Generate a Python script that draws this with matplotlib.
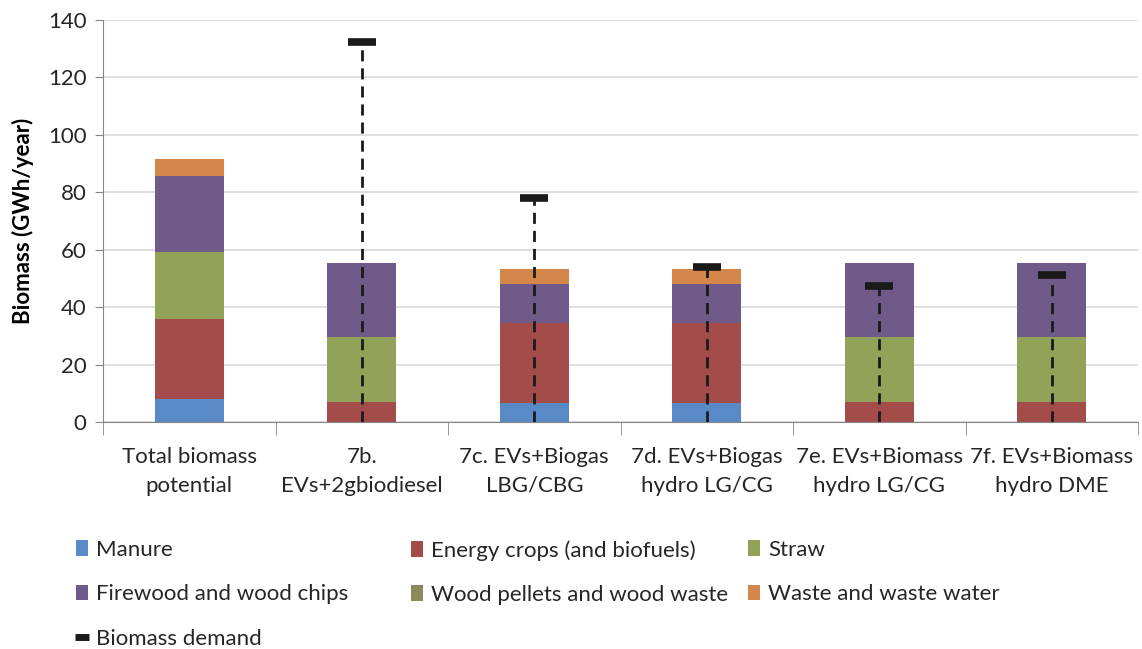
import numpy as np
import matplotlib.pyplot as plt
from matplotlib.patches import Patch
from matplotlib.lines import Line2D

plt.rcParams['font.family'] = ['Lato', 'DejaVu Sans']

categories = ["Total biomass\npotential", "7b.\nEVs+2gbiodiesel", "7c. EVs+Biogas\nLBG/CBG",
              "7d. EVs+Biogas\nhydro LG/CG", "7e. EVs+Biomass\nhydro LG/CG", "7f. EVs+Biomass\nhydro DME"]
manure = [7.9, 0, 6.7, 6.7, 0, 0]
energy = [28.1, 7.1, 27.8, 27.8, 7.1, 7.1]
straw = [23.2, 22.6, 0, 0, 22.6, 22.6]
firewood = [26.5, 25.8, 13.6, 13.6, 25.8, 25.8]
pellets = [0, 0, 0, 0, 0, 0]
waste = [5.8, 0, 5.2, 5.2, 0, 0]
demand = [np.nan, 132.4, 78.0, 54.0, 47.5, 51.2]

series = [("Manure", manure, "#5a89c7"),
          ("Energy crops (and biofuels)", energy, "#a44c4a"),
          ("Straw", straw, "#92a259"),
          ("Firewood and wood chips", firewood, "#705a8a"),
          ("Wood pellets and wood waste", pellets, "#8c8a5b"),
          ("Waste and waste water", waste, "#d5864a")]

fig = plt.figure(figsize=(11.42, 6.49), dpi=100)
ax = fig.add_axes([103/1142, 1 - 422/649, (1138 - 103)/1142, (422 - 20)/649])

x = np.arange(len(categories))
bottom = np.zeros(len(categories))
handles = {}
for name, vals, col in series:
    vals = np.array(vals, dtype=float)
    ax.bar(x, vals, 0.4, bottom=bottom, color=col, zorder=2)
    bottom += vals
    handles[name] = Patch(facecolor=col)

dem = np.array(demand)
ax.vlines(x, 0, dem, colors="#1a1a1a", linestyles=(0, (4, 2.5)), linewidth=2, zorder=3)
ax.plot(x, dem, linestyle="none", marker="_", markersize=20, mew=5.5, color="#1a1a1a", zorder=4)
handles["Biomass demand"] = Line2D([], [], linestyle="none", marker="_", markersize=10, mew=5, color="#1a1a1a")

ax.set_xlim(-0.5, len(categories) - 0.5)
ax.set_ylim(0, 140)
ax.set_yticks(range(0, 141, 20))
ax.grid(axis="y", color="#d9d9d9", linewidth=1.2, zorder=0)
ax.set_axisbelow(True)
for s in ["top", "right"]:
    ax.spines[s].set_visible(False)
ax.spines["left"].set_color("#868686")
ax.spines["bottom"].set_color("#868686")

ax.set_xticks(x)
ax.set_xticklabels(categories, fontsize=16, color="#262626", linespacing=1.55)
ax.tick_params(axis="x", length=0, pad=18)
ax.set_xticks(np.arange(-0.5, len(categories), 1), minor=True)
ax.tick_params(axis="x", which="minor", length=9, color="#868686")
ax.tick_params(axis="y", length=6, color="#868686", labelsize=16, labelcolor="#262626", pad=6)
ax.set_ylabel("Biomass (GWh/year)", fontsize=16, fontweight="bold", labelpad=10)

cols = [["Manure", "Firewood and wood chips", "Biomass demand"],
        ["Energy crops (and biofuels)", "Wood pellets and wood waste"],
        ["Straw", "Waste and waste water"]]
xs = [76, 411, 748]
for names, xp in zip(cols, xs):
    fig.legend([handles[n] for n in names], names, loc="upper left",
               bbox_to_anchor=(xp/1142, 1 - 540/649), frameon=False, fontsize=16,
               borderpad=0, borderaxespad=0, handlelength=0.55, handleheight=0.7,
               handletextpad=0.35, labelspacing=1.1, labelcolor="#262626")

fig.savefig("out.png", dpi=100)
